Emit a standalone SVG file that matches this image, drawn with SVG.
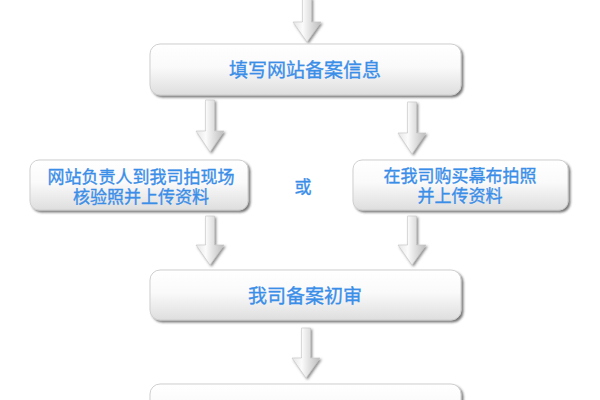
<svg xmlns="http://www.w3.org/2000/svg" width="600" height="400" viewBox="0 0 600 400">
<defs>
<linearGradient id="boxg" x1="0" y1="0" x2="0" y2="1">
<stop offset="0" stop-color="#ffffff"/>
<stop offset="0.45" stop-color="#fafafa"/>
<stop offset="1" stop-color="#dedede"/>
</linearGradient>
<linearGradient id="arrg" x1="0" y1="0" x2="1" y2="0">
<stop offset="0" stop-color="#e6e6e6"/>
<stop offset="0.35" stop-color="#fbfbfb"/>
<stop offset="0.6" stop-color="#e2e2e2"/>
<stop offset="1" stop-color="#bdbdbd"/>
</linearGradient>
<filter id="sh" x="-5%" y="-10%" width="112%" height="130%">
<feDropShadow dx="2" dy="2" stdDeviation="1" flood-color="#333" flood-opacity="0.65"/>
</filter>
<filter id="ash" x="-30%" y="-10%" width="170%" height="130%">
<feDropShadow dx="1.5" dy="1.5" stdDeviation="0.8" flood-color="#444" flood-opacity="0.6"/>
</filter>
</defs>
<style>
.box{fill:url(#boxg);stroke:#cfcfcf;stroke-width:1;filter:url(#sh)}
.t{font-family:"Liberation Sans","Noto Sans CJK SC",sans-serif;fill:#3a8ee8;stroke:#3a8ee8;stroke-width:0.35;text-anchor:middle;dominant-baseline:central}
.big{font-size:19px}
.sm{font-size:17px}
.arr{fill:url(#arrg);stroke:#c4c4c4;stroke-width:0.6;filter:url(#ash)}
</style>
<rect width="600" height="400" fill="#ffffff"/>
<g id="connectors">
<path class="arr" d="M302.5 -2 H311.5 V22 H321 L307 42 L293 22 H302.5 Z"/>
<path class="arr" d="M205.5 100 H214.5 V131 H224 L210 152 L196 131 H205.5 Z"/>
<path class="arr" d="M407.5 102 H416.5 V133 H426 L412 154 L398 133 H407.5 Z"/>
<path class="arr" d="M205.5 216 H214.5 V245 H224 L210 265 L196 245 H205.5 Z"/>
<path class="arr" d="M407.5 216 H416.5 V245 H426 L412 265 L398 245 H407.5 Z"/>
<path class="arr" d="M301.5 328 H310.5 V358 H320 L306 378 L292 358 H301.5 Z"/>
</g>
<g id="n1">
<rect class="box" x="150" y="44" width="311" height="51" rx="10"/>
<text class="t big" x="305" y="70">填写网站备案信息</text>
</g>
<g id="n2">
<rect class="box" x="30" y="160" width="218" height="50" rx="9"/>
<text class="t sm" x="141" y="177">网站负责人到我司拍现场</text>
<text class="t sm" x="141" y="197">核验照并上传资料</text>
</g>
<g id="or">
<text class="t sm" x="303" y="187">或</text>
</g>
<g id="n3">
<rect class="box" x="353" y="160" width="215" height="50" rx="9"/>
<text class="t sm" x="460" y="176">在我司购买幕布拍照</text>
<text class="t sm" x="460" y="196">并上传资料</text>
</g>
<g id="n4">
<rect class="box" x="150" y="270" width="311" height="50" rx="10"/>
<text class="t big" x="305" y="296">我司备案初审</text>
</g>
<g id="n5">
<rect class="box" x="150" y="384" width="311" height="50" rx="10"/>
</g>
</svg>
